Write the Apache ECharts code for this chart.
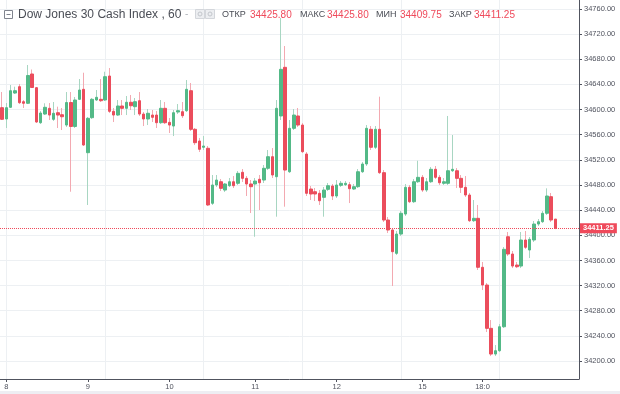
<!DOCTYPE html>
<html><head><meta charset="utf-8">
<script src="https://cdn.jsdelivr.net/npm/echarts@6.0.0/dist/echarts.min.js"></script>
<style>html,body{margin:0;padding:0;background:#fff}#c{width:620px;height:394px}</style>
</head><body><div id="c"></div>
<script>
// hourly candles, Dow Jones 30 Cash Index
const openV = [34603.0,34585.0,34603.6,34626.3,34636.4,34612.5,34610.0,34656.6,34634.8,34579.1,
34592.9,34602.0,34584.5,34595.0,34591.8,34575.4,34611.2,34573.1,34616.3,34632.2,
34531.4,34587.1,34615.2,34616.3,34615.2,34653.4,34597.2,34591.3,34605.7,34602.0,
34611.6,34604.6,34614.1,34592.9,34585.0,34591.3,34591.3,34579.1,34602.0,34579.7,
34573.8,34596.1,34596.6,34598.2,34630.0,34568.6,34550.0,34540.0,34538.4,34450.9,
34480.0,34485.2,34472.0,34478.9,34485.2,34482.7,34500.2,34490.6,34481.6,34481.6,
34489.1,34487.9,34506.6,34525.0,34493.2,34589.8,34667.2,34501.1,34570.2,34589.8,
34575.4,34529.3,34473.6,34469.3,34466.8,34460.4,34473.1,34478.4,34462.5,34479.5,
34480.5,34480.5,34473.6,34477.3,34501.1,34513.4,34568.6,34540.0,34568.6,34499.6,
34424.3,34408.4,34371.3,34402.0,34433.8,34476.3,34453.4,34485.2,34492.2,34472.0,
34485.2,34505.0,34492.2,34482.7,34482.7,34502.7,34502.7,34490.6,34476.3,34464.1,
34423.2,34427.0,34349.1,34320.9,34252.0,34211.1,34216.4,34254.5,34397.7,34370.2,
34352.7,34351.1,34392.5,34376.6,34392.5,34417.9,34421.6,34435.0,34461.4,34425.8];
const closeV = [34584.5,34603.0,34630.0,34630.0,34610.9,34610.0,34654.2,34635.1,34580.2,34594.5,
34603.6,34591.3,34594.1,34591.3,34588.6,34611.2,34573.1,34615.2,34631.1,34543.6,
34586.1,34616.3,34619.5,34614.1,34652.3,34597.2,34591.3,34605.7,34602.0,34611.6,
34606.1,34612.5,34592.9,34585.0,34594.1,34587.7,34579.1,34602.0,34579.1,34575.4,
34595.0,34598.2,34590.2,34632.2,34568.6,34547.3,34536.8,34542.0,34448.2,34480.0,
34487.9,34474.7,34481.6,34485.2,34478.9,34498.6,34490.6,34481.6,34477.3,34486.3,
34483.6,34506.6,34525.0,34495.9,34602.0,34664.0,34503.8,34570.2,34591.3,34575.4,
34533.0,34466.8,34465.7,34465.7,34455.0,34472.0,34478.9,34462.5,34480.0,34482.7,
34482.7,34474.1,34477.3,34501.1,34513.4,34570.2,34540.0,34568.6,34499.6,34424.3,
34408.4,34373.9,34402.0,34435.0,34476.3,34453.4,34485.2,34492.2,34472.0,34485.2,
34505.0,34492.2,34483.6,34485.2,34502.7,34505.0,34490.6,34476.3,34464.1,34423.2,
34427.0,34349.1,34320.9,34252.0,34211.1,34216.4,34254.5,34377.7,34370.2,34351.1,
34350.0,34392.5,34380.9,34393.6,34417.9,34421.6,34435.0,34462.5,34424.3,34411.25];
const lowV = [34583.4,34570.7,34602.5,34624.8,34608.8,34602.5,34608.8,34634.3,34578.6,34577.0,
34591.3,34583.4,34581.8,34570.7,34567.5,34572.3,34469.3,34570.7,34615.2,34542.0,
34448.2,34585.0,34613.6,34612.0,34613.6,34594.5,34580.2,34589.8,34591.3,34591.3,
34599.3,34591.3,34589.8,34573.8,34575.4,34580.2,34570.7,34577.0,34577.0,34562.7,
34557.9,34592.9,34586.6,34596.1,34565.9,34543.6,34532.5,34535.7,34446.6,34448.2,
34476.8,34470.4,34468.8,34476.8,34475.2,34480.0,34484.8,34462.5,34435.4,34397.7,
34440.2,34483.2,34503.8,34491.1,34429.6,34583.4,34445.5,34499.1,34567.5,34572.3,
34530.9,34462.5,34456.1,34454.5,34448.2,34429.6,34470.4,34456.1,34459.3,34476.8,
34478.4,34451.3,34472.0,34475.2,34499.1,34510.2,34535.7,34537.3,34497.5,34421.1,
34403.6,34319.3,34368.6,34398.8,34430.7,34451.3,34451.3,34483.2,34468.8,34468.8,
34483.2,34489.5,34480.0,34480.0,34480.0,34500.7,34475.2,34467.3,34460.9,34421.1,
34421.1,34344.8,34312.9,34246.1,34207.9,34207.9,34214.3,34252.5,34367.0,34347.9,
34347.9,34347.9,34378.2,34363.8,34389.3,34414.8,34419.5,34432.3,34421.1,34409.75];
const highV = [34627.9,34610.4,34639.1,34636.4,34640.7,34615.2,34670.9,34663.7,34635.9,34597.7,
34610.0,34610.4,34612.0,34604.6,34602.5,34627.9,34627.9,34620.0,34648.6,34658.6,
34588.2,34618.4,34631.1,34648.6,34660.2,34666.1,34602.5,34615.2,34615.2,34621.6,
34623.2,34618.4,34627.9,34596.1,34600.9,34599.3,34597.7,34615.2,34612.0,34586.6,
34599.3,34608.8,34612.0,34647.0,34642.3,34570.7,34554.8,34557.9,34542.0,34495.9,
34495.9,34489.5,34483.2,34491.1,34494.3,34502.3,34505.4,34494.3,34487.9,34491.1,
34495.9,34511.8,34535.7,34538.8,34615.2,34745.7,34701.1,34583.4,34600.9,34602.5,
34578.6,34532.5,34478.4,34475.2,34472.0,34476.8,34483.2,34481.6,34487.9,34486.3,
34486.3,34484.8,34481.6,34505.4,34516.6,34575.4,34573.8,34573.8,34620.5,34503.8,
34429.1,34411.6,34406.8,34438.6,34481.6,34480.0,34489.5,34518.6,34495.9,34491.1,
34508.6,34510.2,34495.9,34491.1,34589.8,34559.5,34507.0,34495.9,34494.3,34467.3,
34456.1,34448.2,34357.5,34324.1,34265.2,34225.4,34258.8,34381.3,34405.2,34375.0,
34357.5,34405.2,34406.8,34397.3,34422.7,34425.9,34438.6,34474.7,34467.3,34425.8];

const slotCount = 135;                 // candle slots on the time axis (incl. empty right margin)
const dayLabels = ['8','9','10','11','12','15','18:0'];
const dayLabelIdx = [1,20,39,59,78,98,112];
const gridIdx = [1,24,47,70,93,116];
const yMin = 34171.4, yMax = 34774.3, yStep = 40;
const titleText = 'Dow Jones 30 Cash Index , 60';
const ohlcNames = ['ОТКР','МАКС','МИН','ЗАКР'];
const ohlcVals = ['34425.80','34425.80','34409.75','34411.25'];
const lastPrice = 34411.25;

const UP = '#53b987', DOWN = '#eb4d5c', UPW = '#a8d6c2', DOWNW = '#f3a9b1';
const AX = '#50535e', GRID = '#edf0f3', FONT = '"Liberation Sans", Arial, sans-serif';

const slots = Array.from({length: slotCount}, (_, i) => String(i));
const labelMap = {};
dayLabelIdx.forEach((k, j) => { labelMap[String(k)] = dayLabels[j]; });

const wickData = openV.map((o, i) => [o, closeV[i], lowV[i], highV[i]]);
const bodyData = openV.map((o, i) => [o, closeV[i], Math.min(o, closeV[i]), Math.max(o, closeV[i])]);

const chart = echarts.init(document.getElementById('c'), null, {renderer: 'canvas'});
const hdrX = [222, 250, 300, 327, 376, 400, 449, 474];
const graphics = [
  {type: 'rect', shape: {x: 0, y: 391, width: 620, height: 3}, style: {fill: '#eeeef3'}, z: 100},
  {type: 'rect', shape: {x: 4.5, y: 10.5, width: 8, height: 8}, style: {fill: '#fff', stroke: '#80848e', lineWidth: 1}, z: 100},
  {type: 'line', shape: {x1: 6.5, y1: 14.5, x2: 10.5, y2: 14.5}, style: {stroke: '#80848e', lineWidth: 1}, z: 100},
  {type: 'text', x: 18, y: 15, style: {text: titleText, font: '12px ' + FONT, fill: '#4a4d55', verticalAlign: 'middle'}, z: 100},
  {type: 'text', x: 185, y: 14, style: {text: '-', font: '10px ' + FONT, fill: '#b0b4bb', verticalAlign: 'middle'}, z: 100},
  {type: 'rect', shape: {x: 195.5, y: 9.5, width: 9, height: 9}, style: {fill: '#eceef1', stroke: '#d3d6db', lineWidth: 1}, z: 100},
  {type: 'rect', shape: {x: 205.5, y: 9.5, width: 9, height: 9}, style: {fill: '#eceef1', stroke: '#d3d6db', lineWidth: 1}, z: 100},
  {type: 'circle', shape: {cx: 200, cy: 14, r: 2}, style: {fill: 'none', stroke: '#c3c6cc'}, z: 101},
  {type: 'circle', shape: {cx: 210, cy: 14, r: 2}, style: {fill: 'none', stroke: '#c3c6cc'}, z: 101}
];
ohlcNames.forEach((n, j) => {
  graphics.push({type: 'text', x: hdrX[2*j], y: 15, style: {text: n, font: '9px ' + FONT, fill: '#4a4d55', verticalAlign: 'middle'}, z: 100});
  graphics.push({type: 'text', x: hdrX[2*j+1], y: 15, style: {text: ohlcVals[j], font: '10px ' + FONT, fill: '#ef4a5b', verticalAlign: 'middle'}, z: 100});
});

chart.setOption({
  animation: false,
  backgroundColor: '#fff',
  grid: {left: 0, right: 41, top: 0, bottom: 15, containLabel: false},
  xAxis: {
    type: 'category', data: slots, boundaryGap: true,
    axisLine: {show: true, lineStyle: {color: AX, width: 1}},
    axisTick: {show: true, alignWithLabel: true, length: 3, interval: (i) => dayLabelIdx.includes(i), lineStyle: {color: AX}},
    axisLabel: {interval: (i) => dayLabelIdx.includes(i), formatter: (v) => labelMap[v] || '', fontSize: 7.5, color: '#50535e', margin: 4, fontFamily: FONT},
    splitLine: {show: false}
  },
  yAxis: {
    type: 'value', position: 'right', scale: true, min: yMin, max: yMax,
    minInterval: yStep, maxInterval: yStep, splitNumber: 15,
    axisLine: {show: true, lineStyle: {color: AX, width: 1}},
    axisTick: {show: true, length: 3, lineStyle: {color: AX}},
    axisLabel: {formatter: (v) => v.toFixed(2), fontSize: 7.5, color: '#50535e', margin: 5, fontFamily: FONT, showMinLabel: false, showMaxLabel: false},
    splitLine: {show: true, showMinLine: false, showMaxLine: false, lineStyle: {color: GRID, width: 1}}
  },
  series: [
    {
      type: 'candlestick', name: 'wick', data: wickData, barWidth: 1, silent: true,
      itemStyle: {color: 'rgba(0,0,0,0)', color0: 'rgba(0,0,0,0)', borderColor: UPW, borderColor0: DOWNW, borderWidth: 1},
      markLine: {
        silent: true, symbol: 'none', z: 1, animation: false,
        label: {show: false},
        lineStyle: {color: GRID, type: 'solid', width: 1},
        data: gridIdx.map(k => ({xAxis: String(k)}))
      }
    },
    {
      type: 'candlestick', name: 'body', data: bodyData, barWidth: 3, silent: true,
      itemStyle: {color: UP, color0: DOWN, borderColor: UP, borderColor0: DOWN, borderWidth: 1},
      markLine: {
        silent: true, symbol: 'none', animation: false,
        lineStyle: {color: '#ef4a5b', type: 'dotted', width: 1},
        label: {show: true, position: 'end', distance: 1, formatter: lastPrice.toFixed(2), color: '#fff',
                backgroundColor: '#ef4a5b', fontSize: 7.5, fontWeight: 'bold', padding: [1, 3, 1, 3], fontFamily: FONT},
        data: [{yAxis: lastPrice}]
      }
    }
  ],
  graphic: graphics
});
</script></body></html>
